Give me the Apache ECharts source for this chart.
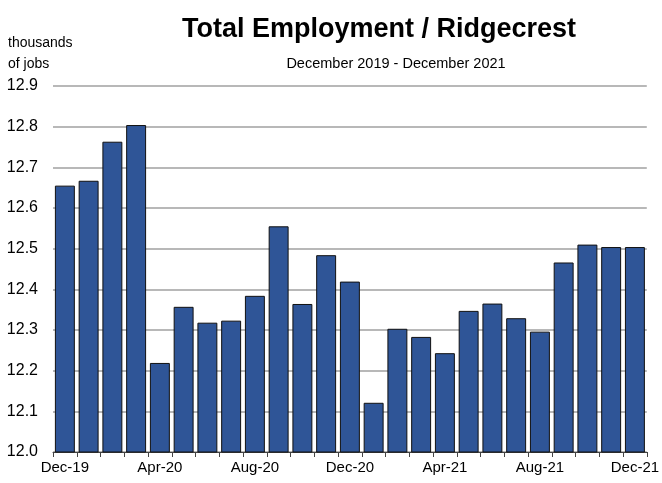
<!DOCTYPE html>
<html>
<head>
<meta charset="utf-8">
<script src="https://cdn.jsdelivr.net/npm/echarts@6/dist/echarts.min.js"></script>
<style>
    html, body { margin: 0; padding: 0; background: #fff; }
    #chart { width: 662px; height: 483px; }
</style>
</head>
<body>
<div id="chart"></div>
<script>
var months = ["Dec-19", "Jan-20", "Feb-20", "Mar-20", "Apr-20", "May-20", "Jun-20", "Jul-20",
    "Aug-20", "Sep-20", "Oct-20", "Nov-20", "Dec-20", "Jan-21", "Feb-21", "Mar-21", "Apr-21",
    "May-21", "Jun-21", "Jul-21", "Aug-21", "Sep-21", "Oct-21", "Nov-21", "Dec-21"];
var jobs = [12.655, 12.667, 12.763, 12.804, 12.219, 12.357, 12.318, 12.323, 12.384, 12.555,
    12.364, 12.484, 12.419, 12.121, 12.303, 12.283, 12.243, 12.347, 12.365, 12.329, 12.296,
    12.466, 12.510, 12.504, 12.504];

var font = "'Liberation Sans Narrow', 'Liberation Sans', Arial, sans-serif";
var chart = echarts.init(document.getElementById("chart"));

var option = {
    animation: false,
    textStyle: {fontFamily: font},
    title: [{
        text: "Total Employment / Ridgecrest",
        left: 374,
        top: 11,
        textAlign: "center",
        textStyle: {fontSize: 27, fontWeight: "bold", color: "#000", fontFamily: font}
    }, {
        text: "December 2019 - December 2021",
        left: 391,
        top: 51,
        textAlign: "center",
        textStyle: {fontSize: 14.5, fontWeight: "normal", color: "#000", fontFamily: font}
    }, {
        text: "thousands\nof jobs",
        left: 3,
        top: 28,
        textStyle: {fontSize: 14, fontWeight: "normal", color: "#000", fontFamily: font, lineHeight: 21}
    }],
    grid: {left: 53, right: 11, top: 86, bottom: 31},
    xAxis: {
        type: "category",
        data: months,
        axisLine: {lineStyle: {color: "#444", width: 1}},
        axisTick: {show: true, interval: 0, length: 5, lineStyle: {color: "#444"}},
        axisLabel: {interval: 3, color: "#000", fontSize: 15, margin: 8, fontFamily: font}
    },
    yAxis: {
        type: "value",
        min: 12,
        max: 12.9,
        interval: 0.1,
        axisLine: {show: false},
        axisTick: {show: false},
        splitLine: {lineStyle: {color: "#a0a0a0", width: 1.5}},
        axisLabel: {
            color: "#000",
            fontSize: 16,
            margin: 15,
            fontFamily: font,
            formatter: function (v) { return v.toFixed(1); }
        }
    },
    series: [{
        type: "bar",
        data: jobs,
        barCategoryGap: "16%",
        itemStyle: {color: "#2f5597", borderColor: "#111", borderWidth: 1}
    }]
};
chart.setOption(option);
</script>
</body>
</html>
